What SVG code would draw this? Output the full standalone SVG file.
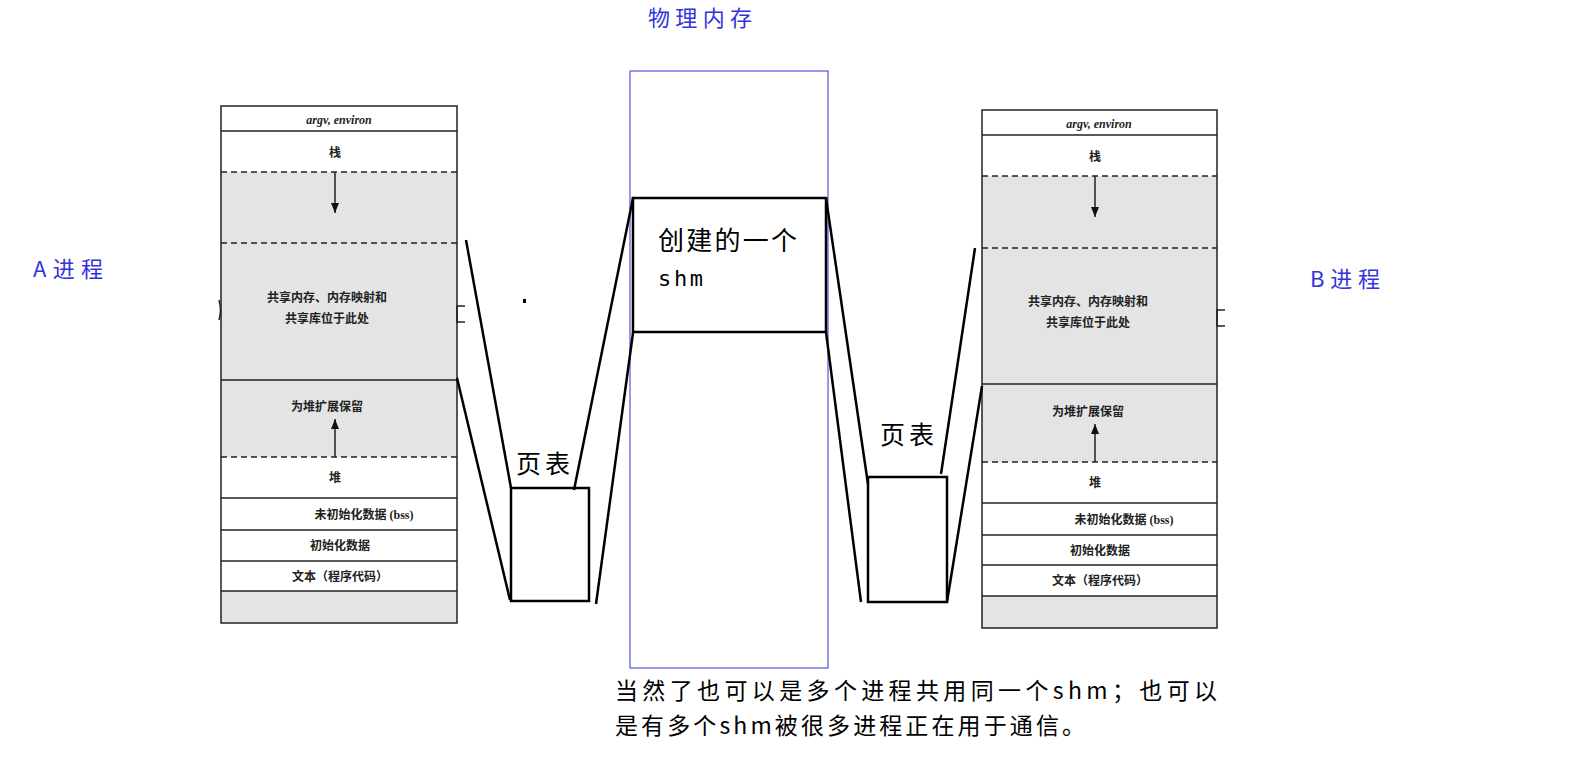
<svg xmlns="http://www.w3.org/2000/svg" width="1571" height="773" viewBox="0 0 1571 773">
<style>
.cn{font-family:"Noto Sans CJK SC","Noto Sans",sans-serif}
.sm{font-family:"Liberation Serif","Noto Sans CJK SC",serif;font-size:12px;font-weight:bold;fill:#222}
.bl{fill:#3333dd;font-size:22px}
.sl{stroke:#222;stroke-width:1.5;fill:none}
.ds{stroke:#222;stroke-width:1.5;stroke-dasharray:6,4}
.bk{stroke:#000;stroke-width:2.5;fill:none}
</style>
<defs>
<marker id="ah" markerWidth="10" markerHeight="8" refX="10" refY="4" orient="auto" markerUnits="userSpaceOnUse"><path d="M0,0 L10,4 L0,8 Z" fill="#111"/></marker>
</defs>
<rect width="1571" height="773" fill="#fff"/>
<g id="procA">
<rect x="221" y="172" width="236" height="285" fill="#e4e4e4"/>
<rect x="221" y="591" width="236" height="32" fill="#e4e4e4"/>
<rect x="221" y="106" width="236" height="517" class="sl"/>
<line x1="221" y1="131" x2="457" y2="131" class="sl"/>
<line x1="221" y1="172" x2="457" y2="172" class="ds"/>
<line x1="221" y1="243" x2="457" y2="243" class="ds"/>
<line x1="221" y1="380" x2="457" y2="380" class="sl"/>
<line x1="221" y1="457" x2="457" y2="457" class="ds"/>
<line x1="221" y1="498" x2="457" y2="498" class="sl"/>
<line x1="221" y1="530" x2="457" y2="530" class="sl"/>
<line x1="221" y1="561" x2="457" y2="561" class="sl"/>
<line x1="221" y1="591" x2="457" y2="591" class="sl"/>
<line x1="335" y1="172" x2="335" y2="213" class="sl" marker-end="url(#ah)"/>
<line x1="335" y1="457" x2="335" y2="419" class="sl" marker-end="url(#ah)"/>
<text x="339" y="124" text-anchor="middle" class="sm" font-style="italic" font-weight="normal">argv, environ</text>
<text x="335" y="157" text-anchor="middle" class="sm">栈</text>
<text x="327" y="302" text-anchor="middle" class="sm">共享内存、内存映射和</text>
<text x="327" y="323" text-anchor="middle" class="sm">共享库位于此处</text>
<text x="327" y="411" text-anchor="middle" class="sm">为堆扩展保留</text>
<text x="335" y="482" text-anchor="middle" class="sm">堆</text>
<text x="364" y="519" text-anchor="middle" class="sm">未初始化数据 (bss)</text>
<text x="340" y="550" text-anchor="middle" class="sm">初始化数据</text>
<text x="340" y="581" text-anchor="middle" class="sm">文本（程序代码）</text>
<path d="M219,300 Q222,310 219,320" class="sl"/>
<path d="M465,306 L457,306 L457,322 L465,322" class="sl"/>
</g>
<g id="procB">
<rect x="982" y="176" width="235" height="286" fill="#e4e4e4"/>
<rect x="982" y="596" width="235" height="32" fill="#e4e4e4"/>
<rect x="982" y="110" width="235" height="518" class="sl"/>
<line x1="982" y1="135" x2="1217" y2="135" class="sl"/>
<line x1="982" y1="176" x2="1217" y2="176" class="ds"/>
<line x1="982" y1="248" x2="1217" y2="248" class="ds"/>
<line x1="982" y1="384" x2="1217" y2="384" class="sl"/>
<line x1="982" y1="462" x2="1217" y2="462" class="ds"/>
<line x1="982" y1="503" x2="1217" y2="503" class="sl"/>
<line x1="982" y1="535" x2="1217" y2="535" class="sl"/>
<line x1="982" y1="565" x2="1217" y2="565" class="sl"/>
<line x1="982" y1="596" x2="1217" y2="596" class="sl"/>
<line x1="1095" y1="176" x2="1095" y2="217" class="sl" marker-end="url(#ah)"/>
<line x1="1095" y1="462" x2="1095" y2="424" class="sl" marker-end="url(#ah)"/>
<text x="1099" y="128" text-anchor="middle" class="sm" font-style="italic" font-weight="normal">argv, environ</text>
<text x="1095" y="161" text-anchor="middle" class="sm">栈</text>
<text x="1088" y="306" text-anchor="middle" class="sm">共享内存、内存映射和</text>
<text x="1088" y="327" text-anchor="middle" class="sm">共享库位于此处</text>
<text x="1088" y="416" text-anchor="middle" class="sm">为堆扩展保留</text>
<text x="1095" y="487" text-anchor="middle" class="sm">堆</text>
<text x="1124" y="524" text-anchor="middle" class="sm">未初始化数据 (bss)</text>
<text x="1100" y="555" text-anchor="middle" class="sm">初始化数据</text>
<text x="1100" y="585" text-anchor="middle" class="sm">文本（程序代码）</text>
<path d="M1225,310 L1217,310 L1217,326 L1225,326" class="sl"/>
</g>
<g id="mem">
<rect x="630" y="71" width="198" height="597" fill="none" stroke="#3333dd" stroke-width="1"/>
<text x="648" y="26" textLength="104" class="cn bl">物理内存</text>
</g>
<g id="shm">
<rect x="633" y="198" width="193" height="134" fill="#fff" class="bk"/>
<text x="658" y="250" textLength="139" class="cn" font-size="26">创建的一个</text>
<text x="658" y="286" textLength="45" font-family="'DejaVu Sans Mono','Liberation Mono',monospace" font-size="22">shm</text>
</g>
<g id="ptA">
<rect x="511" y="488" width="78" height="113" class="bk"/>
<text x="516" y="473" textLength="54" class="cn" font-size="25">页表</text>
</g>
<g id="ptB">
<rect x="868" y="477" width="79" height="125" class="bk"/>
<text x="880" y="444" textLength="54" class="cn" font-size="25">页表</text>
</g>
<g id="labels">
<text x="33" y="277" textLength="70" class="cn bl">A进程</text>
<text x="1310" y="287" textLength="70" class="cn bl">B进程</text>
<text x="615" y="699" textLength="602" class="cn" font-size="23">当然了也可以是多个进程共用同一个shm；也可以</text>
<text x="615" y="734" textLength="470" class="cn" font-size="23">是有多个shm被很多进程正在用于通信。</text>
<rect x="523" y="299" width="3" height="4" fill="#000"/>
</g>
<g id="connectors" class="bk">
<line x1="466" y1="240" x2="511" y2="488"/>
<line x1="457" y1="378" x2="510" y2="600"/>
<line x1="574" y1="490" x2="633" y2="198"/>
<line x1="596" y1="604" x2="633" y2="333"/>
<line x1="826" y1="198" x2="868" y2="484"/>
<line x1="826" y1="332" x2="861" y2="602"/>
<line x1="941" y1="474" x2="975" y2="248"/>
<line x1="947" y1="602" x2="982" y2="386"/>
</g>
</svg>
